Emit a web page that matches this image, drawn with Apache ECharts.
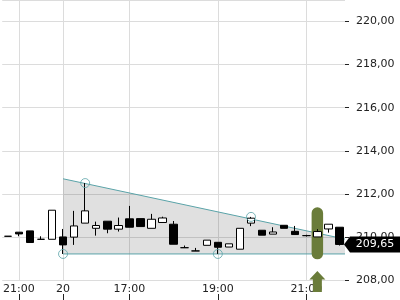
<!DOCTYPE html>
<html><head><meta charset="utf-8">
<script src="https://cdn.jsdelivr.net/npm/echarts@6/dist/echarts.min.js"></script>
<style>html,body{margin:0;padding:0;background:#fff}#c{width:400px;height:300px}</style>
</head><body><div id="c"></div>
<script>
const categories = ['c00','c01','c02','c03','c04','c05','c06','c07','c08','c09','c10','c11','c12','c13','c14','c15','c16','c17','c18','c19','c20','c21','c22','c23','c24','c25','c26','c27','c28','c29','c30'];
const tickIdx = [1, 5, 11, 19, 27];
const tickText = ['21:00', '20', '17:00', '19:00', '21:00'];
const opens  = [210.03,210.22,210.28,209.89,209.89,210.00,209.99,210.64,210.40,210.73,210.36,210.84,210.85,210.40,210.67,210.59,209.50,209.35,209.61,209.75,209.53,209.43,210.64,210.31,210.13,210.54,210.26,210.06,210.00,210.37,210.45];
const closes = [210.03,210.14,209.74,209.89,211.24,209.63,210.51,211.21,210.53,210.36,210.53,210.45,210.48,210.82,210.88,209.66,209.50,209.35,209.85,209.52,209.68,210.40,210.87,210.08,210.23,210.40,210.11,210.06,210.25,210.59,209.65];
const lows   = [210.03,210.03,209.74,209.89,209.89,209.21,209.63,210.64,210.06,210.17,210.25,210.45,210.48,210.40,210.67,209.66,209.50,209.35,209.61,209.21,209.53,209.43,210.50,210.08,210.13,210.40,210.11,210.02,210.00,210.20,209.60];
const highs  = [210.03,210.22,210.28,210.03,211.24,210.37,211.21,212.50,210.71,210.73,210.90,211.44,210.85,211.07,210.94,210.74,209.60,209.49,209.85,209.75,209.68,210.40,210.93,210.31,210.45,210.54,210.51,210.10,210.36,210.59,210.45];
const yMin = 208, yMax = 221, yStep = 2;
const trendX = [5, 30.5];
const trendTop = [212.70, 209.90];
const trendBottom = 209.21;
const pivotIdx = [5, 7, 19, 22];
const pivotVals = [209.21, 212.50, 209.21, 210.93];
const highlightIdx = 28;
const highlightRange = [208.96, 211.38];
const lastPrice = closes[closes.length - 1];

const FONT = 'DejaVu Sans';
const TEAL = '#5aa3a8';
const OLIVE = '#6a7c3a';
const fmt = v => Number(v).toFixed(2).replace('.', ',');

const candleData = opens.map((o, i) => [o, closes[i], lows[i], highs[i]]);
const chart = echarts.init(document.getElementById('c'), null, {renderer: 'canvas'});
chart.setOption({
  animation: false,
  grid: {left: 0, right: 55, top: -1, bottom: 20},
  xAxis: [{
    type: 'category', data: categories, boundaryGap: true, position: 'bottom', offset: 20,
    axisLine: {show: false, onZero: false},
    axisTick: {show: true, inside: true, length: 6, alignWithLabel: true,
      interval: i => tickIdx.includes(i), lineStyle: {color: '#222'}},
    axisLabel: {show: true, inside: true, margin: 5, fontFamily: FONT, fontSize: 11, color: '#222',
      interval: i => tickIdx.includes(i),
      formatter: (v, i) => tickText[tickIdx.indexOf(i)] || ''},
    splitLine: {show: false}
  }, {
    type: 'value', min: -0.5, max: 30.5, show: false, axisLine: {onZero: false}
  }],
  yAxis: {
    type: 'value', position: 'right', min: yMin, max: yMax, interval: yStep, scale: true,
    axisLine: {show: false, onZero: false},
    axisTick: {show: true, length: 4, lineStyle: {color: '#222'}},
    axisLabel: {margin: 11, fontFamily: FONT, fontSize: 11, color: '#222', showMaxLabel: false,
      formatter: v => fmt(v)},
    splitLine: {show: true, lineStyle: {color: '#dcdcdc', width: 1}}
  },
  series: [{
    type: 'custom', xAxisIndex: 1, z: 1,
    encode: {x: [0, 2], y: [1, 3, 4]},
    data: [[trendX[0], trendTop[0], trendX[1], trendTop[1], trendBottom]],
    renderItem: function (params, api) {
      const p0 = api.coord([api.value(0), api.value(1)]);
      const p1 = api.coord([api.value(2), api.value(3)]);
      const p2 = api.coord([api.value(2), api.value(4)]);
      const p3 = api.coord([api.value(0), api.value(4)]);
      return {type: 'group', children: [
        {type: 'polygon', shape: {points: [p0, p1, p2, p3]}, style: {fill: 'rgba(0,0,0,0.12)'}},
        {type: 'polyline', shape: {points: [p0, p1]}, style: {stroke: TEAL, lineWidth: 1, fill: null}},
        {type: 'polyline', shape: {points: [p3, p2]}, style: {stroke: TEAL, lineWidth: 1, fill: null}}
      ]};
    },
    markLine: {
      silent: true, symbol: 'none', z: 0, animation: false,
      label: {show: false},
      lineStyle: {color: '#dcdcdc', width: 1, type: 'solid'},
      data: tickIdx.map(i => ({xAxis: i}))
    }
  }, {
    type: 'custom', xAxisIndex: 0, z: 1.5,
    encode: {x: 0, y: [1, 2]},
    data: [[highlightIdx, highlightRange[0], highlightRange[1]]],
    renderItem: function (params, api) {
      const top = api.coord([api.value(0), api.value(2)]);
      const bot = api.coord([api.value(0), api.value(1)]);
      const base = api.coord([api.value(0), yMin]);
      const w = api.size([1, 0])[0] * 1.04;
      const cx = top[0], by = base[1];
      return {type: 'group', children: [
        {type: 'rect', shape: {x: cx - w / 2, y: top[1], width: w, height: bot[1] - top[1], r: w / 2},
          style: {fill: OLIVE}},
        {type: 'polygon', shape: {points: [
          [cx, by - 9], [cx + 8, by - 0.5], [cx + 4.5, by - 0.5], [cx + 4.5, by + 12],
          [cx - 4.5, by + 12], [cx - 4.5, by - 0.5], [cx - 8, by - 0.5]]},
          style: {fill: OLIVE}}
      ]};
    }
  }, {
    type: 'candlestick', xAxisIndex: 0, z: 2,
    barWidth: 8,
    data: candleData,
    itemStyle: {color: '#ffffff', color0: '#000000', borderColor: '#000000', borderColor0: '#000000', borderWidth: 1},
    markPoint: {
      z: 5, animation: false,
      symbol: 'path://M0,8L6,0L56,0L56,16L6,16Z',
      symbolSize: [56, 16], symbolOffset: [32.5, 0], symbolKeepAspect: false,
      itemStyle: {color: '#000000'},
      label: {show: true, position: 'inside', offset: [3, 0], color: '#ffffff', fontSize: 11, fontFamily: FONT,
        formatter: p => fmt(p.value)},
      data: [{coord: [categories[categories.length - 1], lastPrice], value: lastPrice}]
    }
  }, {
    type: 'scatter', xAxisIndex: 0, z: 3,
    symbol: 'circle', symbolSize: 9,
    itemStyle: {color: 'rgba(0,0,0,0)', borderColor: TEAL, borderWidth: 1},
    data: pivotIdx.map((i, k) => [i, pivotVals[k]])
  }]
});
</script>
</body></html>
